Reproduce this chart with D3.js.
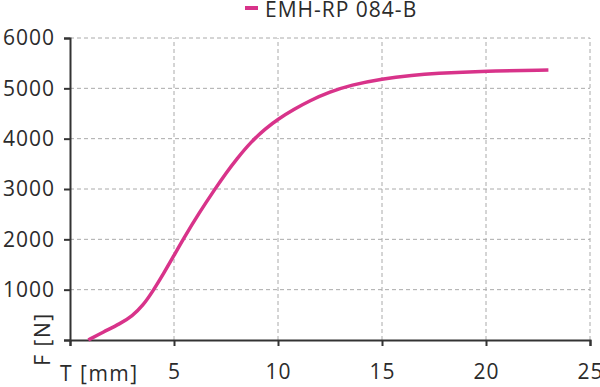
<!DOCTYPE html>
<html><head><meta charset="utf-8">
<script src="https://cdn.jsdelivr.net/npm/d3@7"></script>
<style>body{margin:0;background:#fff}svg{display:block}text{font-family:"Open Sans",sans-serif;fill:#2b2b2b}</style>
</head><body>
<svg id="c" width="600" height="387"></svg>
<script>
const seriesName = "EMH-RP 084-B";
const strokeT = [0.88, 1.6, 2.4, 3.0, 3.5, 4.0, 4.5, 5.0, 5.45, 6.2, 6.97, 7.5, 8.0, 8.73, 9.4, 10, 10.8, 11.5, 12.5, 13.5, 15, 16.5, 17.5, 20, 23];
const forceF = [0, 160, 320, 480, 680, 980, 1320, 1680, 2010, 2520, 3000, 3315, 3590, 3950, 4200, 4390, 4590, 4750, 4930, 5065, 5190, 5262, 5295, 5343, 5365];
const xTicks = [5, 10, 15, 20, 25];
const yTicks = [1000, 2000, 3000, 4000, 5000, 6000];
const xTitle = "T [mm]";
const yTitle = "F [N]";

const svg = d3.select("#c");
const x = d3.scaleLinear().domain([0, 25]).range([70, 590]);
const y = d3.scaleLinear().domain([0, 6000]).range([340, 38]);
const color = "#d8338a";
const fs = 21;

// grid
svg.append("g").selectAll("line").data(xTicks).join("line")
  .attr("x1", d => x(d)).attr("x2", d => x(d)).attr("y1", y(0)).attr("y2", y(6000))
  .attr("stroke", "#aaa").attr("stroke-width", 1).attr("stroke-dasharray", "4,3");
svg.append("g").selectAll("line").data(yTicks).join("line")
  .attr("x1", x(0)).attr("x2", x(25)).attr("y1", d => y(d)).attr("y2", d => y(d))
  .attr("stroke", "#aaa").attr("stroke-width", 1).attr("stroke-dasharray", "4,3");

// axes
const xa = svg.append("g").attr("transform", `translate(0,${y(0)})`)
  .call(d3.axisBottom(x).tickValues([0].concat(xTicks)).tickSize(6).tickPadding(18).tickFormat(d => d === 0 ? "" : d));
const ya = svg.append("g").attr("transform", `translate(${x(0)},0)`)
  .call(d3.axisLeft(y).tickValues([0].concat(yTicks)).tickSize(6).tickPadding(9).tickFormat(d => d === 0 ? "" : d));
[xa, ya].forEach(a => {
  a.select(".domain").attr("stroke", "#333").attr("stroke-width", 2);
  a.selectAll(".tick line").attr("stroke", "#333").attr("stroke-width", 2);
  a.selectAll("text").attr("font-size", fs).attr("font-family", '"Open Sans",sans-serif').attr("fill", "#2b2b2b").attr("letter-spacing", 1);
});

// titles
svg.append("text").attr("x", 60).attr("y", 381).attr("font-size", fs).attr("letter-spacing", 1.5).text(xTitle);
svg.append("text").attr("transform", "translate(50,339) rotate(-90)").attr("text-anchor", "middle")
  .attr("font-size", fs).attr("letter-spacing", 1.5).text(yTitle);

// line
const data = strokeT.map((t, i) => ({t, f: forceF[i]}));
svg.append("path").datum(data)
  .attr("fill", "none").attr("stroke", color).attr("stroke-width", 3.5).attr("stroke-linecap", "butt")
  .attr("d", d3.line().x(d => x(d.t)).y(d => y(d.f)).curve(d3.curveBasis));

// legend
svg.append("line").attr("x1", 245).attr("x2", 258).attr("y1", 8).attr("y2", 8)
  .attr("stroke", color).attr("stroke-width", 4);
svg.append("text").attr("x", 265).attr("y", 17).attr("font-size", fs).attr("letter-spacing", 1).text(seriesName);
</script>
</body></html>
